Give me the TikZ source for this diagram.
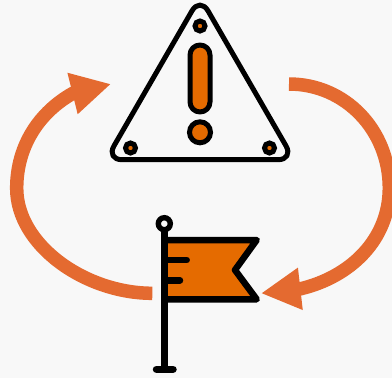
\documentclass[tikz,border=0pt]{standalone}
\usepackage{xcolor}
\usetikzlibrary{arrows.meta}
\definecolor{loopcol}{HTML}{E46A30}
\definecolor{iconcol}{HTML}{E56B00}
\definecolor{pagecol}{HTML}{F8F8F8}

\begin{document}
\begin{tikzpicture}[
    x=1pt, y=-1pt,
    outline/.style={draw=black, line width=5pt, line join=round, line cap=round},
    rivet/.style={draw=black, fill=iconcol, line width=5pt, circle, inner sep=0pt, minimum size=10pt},
    flagline/.style={draw=black, line width=6.5pt, line cap=round, line join=round},
    loopline/.style={draw=loopcol, line width=13.5pt, -{Triangle[length=39.6pt,width=39.6pt,fill=loopcol]}}
]
    \clip (0,0) rectangle (392,378);
    \fill[pagecol] (0,0) rectangle (392,378);

    % warning sign
    \draw[outline, rounded corners=16pt] (200,159.7) -- (106,159.7) -- (200,-3) -- (294,159.7) -- cycle;
    \node[rivet] (rivettop) at (200,26) {};
    \node[rivet] (rivetleft) at (130.5,148) {};
    \node[rivet] (rivetright) at (269.5,148) {};
    \draw[outline, fill=iconcol, rounded corners=10pt] (190,45) rectangle (210,112);
    \node[rivet, minimum size=21pt] (dot) at (200,132.3) {};

    % flag
    \draw[flagline, fill=iconcol] (164.3,240) -- (256.7,240) -- (235,270) -- (256.7,299.3) -- (164.3,299.3);
    \draw[flagline] (164.3,260) -- (186.7,260);
    \draw[flagline] (164.3,280.3) -- (180,280.3);
    \draw[flagline, line cap=butt] (164.3,229) -- (164.3,369.3);
    \draw[flagline, line width=7.5pt] (156.5,369.3) -- (173,369.3);
    \node[circle, draw=black, fill=pagecol, line width=5.4pt, inner sep=0pt, minimum size=12pt] (knob) at (164.3,223.7) {};

    % loop arrows
    \coordinate (leftstart) at (152.3,293.3);
    \coordinate (leftmid) at (16.7,188.3);
    \coordinate (leftbase) at (72.5,93.5);
    \coordinate (lefttip) at (111,84);
    \coordinate (rightstart) at (289,84);
    \coordinate (rightmid) at (389.3,188);
    \coordinate (rightbase) at (300.5,288.8);
    \coordinate (righttip) at (261,293.3);
    \draw[loopline] (leftstart) .. controls (85,293.3) and (16.7,245) .. (leftmid)
        .. controls (16.7,145) and (40,112) .. (leftbase) -- (lefttip);
    \draw[loopline] (rightstart) .. controls (345,84) and (389.3,130) .. (rightmid)
        .. controls (389.3,240) and (350,277) .. (rightbase) -- (righttip);
\end{tikzpicture}
\end{document}
